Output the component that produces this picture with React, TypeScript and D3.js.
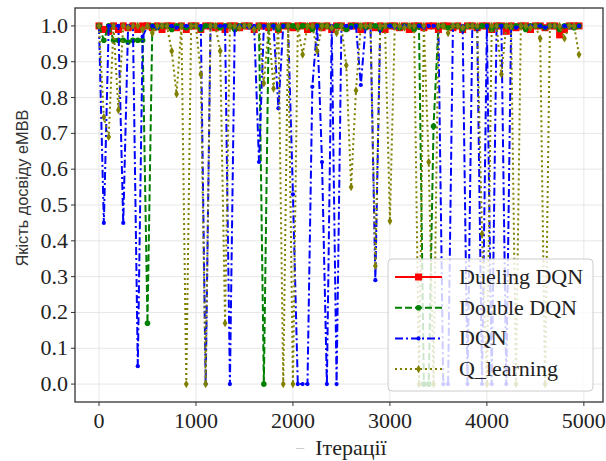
import * as d3 from "d3";
import React, { useEffect } from "react";

// iterations, one point every 50 steps
const iterations = d3.range(0, 5000, 50);

const duelingDqn = [
  1.0, 0.99, 0.985, 1.0, 0.99, 1.0, 0.995, 1.0, 0.99, 1.0,
  1.0, 0.995, 1.0, 0.99, 1.0, 1.0, 0.995, 1.0, 0.99, 1.0,
  1.0, 0.99, 1.0, 1.0, 0.995, 1.0, 0.99, 1.0, 1.0, 0.995,
  1.0, 1.0, 0.99, 1.0, 1.0, 0.995, 1.0, 0.99, 1.0, 1.0,
  0.995, 1.0, 1.0, 0.99, 1.0, 1.0, 0.995, 1.0, 0.99, 1.0,
  1.0, 0.995, 1.0, 1.0, 0.99, 1.0, 1.0, 0.995, 1.0, 0.99,
  1.0, 1.0, 0.995, 1.0, 0.99, 1.0, 1.0, 0.995, 1.0, 1.0,
  0.99, 1.0, 1.0, 0.995, 1.0, 0.99, 1.0, 1.0, 0.995, 1.0,
  1.0, 0.99, 1.0, 1.0, 0.985, 1.0, 0.995, 1.0, 1.0, 0.99,
  1.0, 1.0, 0.995, 1.0, 1.0, 0.975, 0.99, 1.0, 1.0, 1.0,
];

const doubleDqn = [
  1.0, 0.96, 1.0, 0.96, 0.96, 0.96, 0.955, 0.96, 0.96, 0.96,
  0.17, 1.0, 0.995, 1.0, 1.0, 0.99, 1.0, 1.0, 0.995, 1.0,
  1.0, 0.99, 1.0, 1.0, 1.0, 0.995, 1.0, 1.0, 0.99, 1.0,
  1.0, 1.0, 0.995, 1.0, 0.0, 1.0, 1.0, 0.99, 1.0, 1.0,
  1.0, 0.995, 1.0, 1.0, 0.99, 1.0, 1.0, 1.0, 0.995, 1.0,
  1.0, 0.99, 1.0, 1.0, 1.0, 0.995, 1.0, 1.0, 0.99, 1.0,
  1.0, 1.0, 0.995, 1.0, 1.0, 0.99, 1.0, 0.0, 0.0, 0.72,
  1.0, 1.0, 0.995, 1.0, 1.0, 0.99, 1.0, 1.0, 0.995, 1.0,
  1.0, 0.99, 1.0, 1.0, 1.0, 0.995, 1.0, 1.0, 0.99, 1.0,
  1.0, 1.0, 0.995, 1.0, 1.0, 0.99, 1.0, 1.0, 0.995, 1.0,
];

const dqn = [
  1.0, 0.45, 1.0, 1.0, 1.0, 0.45, 1.0, 1.0, 0.05, 0.97,
  1.0, 1.0, 0.995, 1.0, 1.0, 1.0, 0.995, 1.0, 1.0, 1.0,
  1.0, 1.0, 0.0, 1.0, 1.0, 1.0, 1.0, 0.0, 1.0, 1.0,
  1.0, 0.995, 1.0, 0.62, 1.0, 1.0, 1.0, 0.77, 1.0, 1.0,
  0.53, 0.0, 0.0, 0.0, 0.83, 1.0, 0.62, 0.0, 1.0, 0.0,
  1.0, 1.0, 0.995, 1.0, 0.835, 1.0, 1.0, 0.29, 1.0, 1.0,
  1.0, 0.995, 1.0, 1.0, 1.0, 1.0, 1.0, 0.995, 1.0, 1.0,
  1.0, 0.0, 0.0, 1.0, 1.0, 1.0, 0.0, 1.0, 1.0, 0.0,
  1.0, 0.0, 1.0, 1.0, 0.0, 1.0, 0.995, 1.0, 1.0, 1.0,
  1.0, 1.0, 0.995, 1.0, 1.0, 1.0, 1.0, 0.995, 1.0, 1.0,
];

const qLearning = [
  1.0, 0.745, 0.69, 1.0, 0.765, 1.0, 0.995, 1.0, 1.0, 0.99,
  1.0, 0.98, 1.0, 1.0, 1.0, 0.93, 0.81, 1.0, 0.0, 1.0,
  1.0, 0.865, 0.0, 1.0, 1.0, 0.93, 0.17, 1.0, 1.0, 0.995,
  1.0, 1.0, 0.99, 1.0, 0.84, 1.0, 0.825, 1.0, 0.0, 1.0,
  0.0, 1.0, 0.92, 1.0, 1.0, 0.93, 1.0, 1.0, 0.995, 0.98,
  1.0, 0.89, 0.55, 0.82, 1.0, 1.0, 1.0, 0.33, 1.0, 1.0,
  0.455, 1.0, 1.0, 0.995, 1.0, 1.0, 0.0, 1.0, 0.62, 0.0,
  1.0, 1.0, 0.98, 1.0, 1.0, 0.995, 1.0, 1.0, 1.0, 0.42,
  0.0, 1.0, 1.0, 0.865, 1.0, 1.0, 0.0, 1.0, 1.0, 0.995,
  1.0, 0.965, 0.0, 1.0, 1.0, 1.0, 0.965, 1.0, 1.0, 0.92,
];

const seriesNames = ["Dueling DQN", "Double DQN", "DQN", "Q_learning"];
const xTicks = [0, 1000, 2000, 3000, 4000, 5000];
const yTicks = [0, 0.1, 0.2, 0.3, 0.4, 0.5, 0.6, 0.7, 0.8, 0.9, 1.0];

const serif = "Liberation Serif";
const sans = "Liberation Sans";

const width = 606;
const height = 461;
const left = 75, right = 603, top = 8, bottom = 402;

const x = d3.scaleLinear().domain([-247.5, 5197.5]).range([left, right]);
const y = d3.scaleLinear().domain([-0.05, 1.05]).range([bottom, top]);

const series = [
  { name: seriesNames[0], values: duelingDqn, color: "#ff0000", dash: undefined, marker: "square" },
  { name: seriesNames[1], values: doubleDqn, color: "#008000", dash: "7,3", marker: "circle" },
  { name: seriesNames[2], values: dqn, color: "#0000ff", dash: "8,3,2,3", marker: "dot" },
  { name: seriesNames[3], values: qLearning, color: "#808000", dash: "2,3", marker: "diamond" },
];

const line = d3.line<number>()
  .x((d, i) => x(iterations[i]))
  .y((d) => y(d));

const diamond = d3.symbol().type(d3.symbolDiamond).size(20)();

function Marker({ kind, color, cx, cy }: { kind: string; color: string; cx: number; cy: number }) {
  if (kind === "square") {
    return <rect x={cx - 3.5} y={cy - 3.5} width={7} height={7} fill={color} />;
  }
  if (kind === "circle") {
    return <circle cx={cx} cy={cy} r={2.8} fill={color} />;
  }
  if (kind === "dot") {
    return <circle cx={cx} cy={cy} r={2.1} fill={color} />;
  }
  return <path d={diamond as string} transform={`translate(${cx},${cy})`} fill={color} />;
}

function Chart() {
  return (
    <svg width={width} height={height} style={{ display: "block", background: "white" }}>
      {/* grid */}
      <g stroke="#e4e4e4" strokeWidth={0.9}>
        {xTicks.map((t) => (
          <line key={"gx" + t} x1={x(t)} x2={x(t)} y1={top} y2={bottom} />
        ))}
        {yTicks.map((t) => (
          <line key={"gy" + t} x1={left} x2={right} y1={y(t)} y2={y(t)} />
        ))}
      </g>

      {/* series, drawn in legend order */}
      {series.map((s) => (
        <g key={s.name}>
          <path d={line(s.values) || ""} fill="none" stroke={s.color} strokeWidth={2} strokeDasharray={s.dash} />
          {s.values.map((v, i) => (
            <Marker key={i} kind={s.marker} color={s.color} cx={x(iterations[i])} cy={y(v)} />
          ))}
        </g>
      ))}

      {/* frame */}
      <rect x={left} y={top} width={right - left} height={bottom - top} fill="none" stroke="#333" strokeWidth={1.3} />

      {/* x axis */}
      {xTicks.map((t) => (
        <g key={"xt" + t}>
          <line x1={x(t)} x2={x(t)} y1={bottom} y2={bottom + 4} stroke="#333" />
          <text x={x(t)} y={428} textAnchor="middle" fontFamily={serif} fontSize={22} fill="#222">
            {t}
          </text>
        </g>
      ))}

      {/* y axis */}
      {yTicks.map((t) => (
        <g key={"yt" + t}>
          <line x1={left - 4} x2={left} y1={y(t)} y2={y(t)} stroke="#333" />
          <text x={68} y={y(t) + 7} textAnchor="end" fontFamily={serif} fontSize={22} fill="#222">
            {t.toFixed(1)}
          </text>
        </g>
      ))}

      {/* axis labels */}
      <text
        transform="translate(28,188) rotate(-90)"
        textAnchor="middle"
        textLength={157}
        lengthAdjust="spacingAndGlyphs"
        fontFamily={sans}
        fontSize={17}
        fill="#333"
      >
        Якість досвіду eMBB
      </text>
      <text x={300} y={452} textAnchor="middle" fontFamily={serif} fontSize={16} fill="#ccc">–</text>
      <text x={351} y={455} textAnchor="middle" fontFamily={serif} fontSize={22} fill="#222">
        Ітерації
      </text>

      {/* legend */}
      <g>
        <rect x={388} y={259} width={205} height={132} rx={4} fill="white" fillOpacity={0.8} stroke="#cccccc" />
        {series.map((s, i) => {
          const ry = 277 + i * 30.7;
          return (
            <g key={"lg" + s.name}>
              <line x1={395} x2={442} y1={ry} y2={ry} stroke={s.color} strokeWidth={2} strokeDasharray={s.dash} />
              <Marker kind={s.marker} color={s.color} cx={418.5} cy={ry} />
              <text x={459} y={ry + 7} fontFamily={serif} fontSize={22} fill="#222">
                {s.name}
              </text>
            </g>
          );
        })}
      </g>
    </svg>
  );
}

export default function App() {
  useEffect(() => {
    document.body.style.margin = "0";
  }, []);
  return <Chart />;
}
